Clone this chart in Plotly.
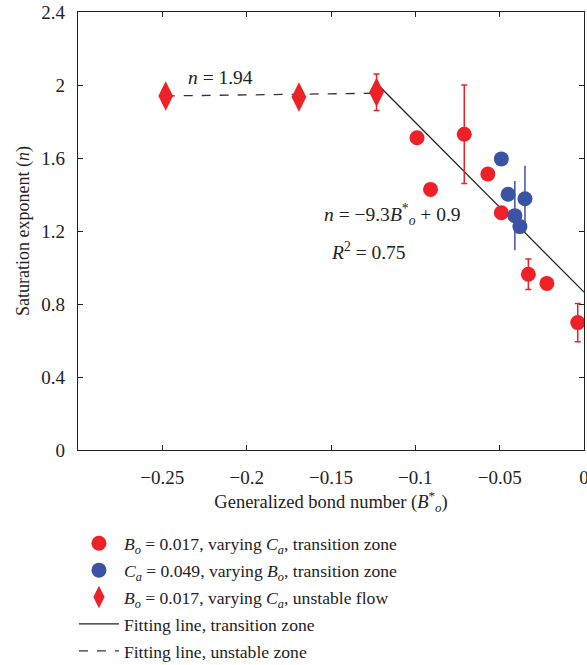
import plotly.graph_objects as go

# Red circles: Bo = 0.017, varying Ca, transition zone
red_x = [-0.099, -0.071, -0.091, -0.057, -0.049, -0.033, -0.022, -0.0037]
red_y = [1.711, 1.73, 1.428, 1.512, 1.30, 0.963, 0.913, 0.698]
red_err = [0, 0.27, 0, 0, 0, 0.083, 0, 0.105]

# Blue circles: Ca = 0.049, varying Bo, transition zone
blue_x = [-0.049, -0.045, -0.035, -0.041, -0.038]
blue_y = [1.595, 1.401, 1.377, 1.284, 1.224]
blue_err = [0, 0, 0.18, 0.19, 0]

# Red diamonds: unstable flow
dia_x = [-0.248, -0.169, -0.123]
dia_y = [1.94, 1.934, 1.96]
dia_err = [0, 0, 0.10]

# Fitting lines
fit_trans_x = [-0.121, 0.0]
fit_trans_y = [1.99, 0.865]
fit_unst_x = [-0.248, -0.123]
fit_unst_y = [1.94, 1.955]

x_ticks = [-0.25, -0.2, -0.15, -0.1, -0.05, 0]
x_tick_labels = ["\u22120.25", "\u22120.2", "\u22120.15", "\u22120.1", "\u22120.05", "0"]
y_ticks = [0, 0.4, 0.8, 1.2, 1.6, 2, 2.4]
y_tick_labels = ["0", "0.4", "0.8", "1.2", "1.6", "2", "2.4"]

RED = "#EE2128"
BLUE = "#3A53A4"
FONT = "Liberation Serif"
INK = "#222222"

fig = go.Figure()

fig.add_trace(go.Scatter(
    x=fit_trans_x, y=fit_trans_y, mode="lines",
    line=dict(color=INK, width=1.3),
    name="Fitting line, transition zone", showlegend=False))
fig.add_trace(go.Scatter(
    x=fit_unst_x, y=fit_unst_y, mode="lines",
    line=dict(color="#333333", width=1.3, dash="dash"),
    name="Fitting line, unstable zone", showlegend=False))

fig.add_trace(go.Scatter(
    x=red_x, y=red_y, mode="markers",
    marker=dict(color=RED, size=15, symbol="circle"),
    error_y=dict(type="data", array=red_err, visible=True, color=RED, thickness=1.5, width=3),
    name="<i>B<sub>o</sub></i> = 0.017, varying <i>C<sub>a</sub></i>, transition zone",
    legendgroup="a"))
fig.add_trace(go.Scatter(
    x=blue_x, y=blue_y, mode="markers",
    marker=dict(color=BLUE, size=15, symbol="circle"),
    error_y=dict(type="data", array=blue_err, visible=True, color=BLUE, thickness=1.5, width=0),
    name="<i>C<sub>a</sub></i> = 0.049, varying <i>B<sub>o</sub></i>, transition zone",
    legendgroup="b"))
fig.add_trace(go.Scatter(
    x=dia_x, y=dia_y, mode="markers",
    marker=dict(color=RED, size=21, symbol="diamond-tall"),
    error_y=dict(type="data", array=dia_err, visible=True, color=RED, thickness=1.5, width=3),
    name="<i>B<sub>o</sub></i> = 0.017, varying <i>C<sub>a</sub></i>, unstable flow",
    legendgroup="c"))

# legend entries for the lines
fig.add_trace(go.Scatter(
    x=[None], y=[None], mode="lines",
    line=dict(color=INK, width=1.3),
    name="Fitting line, transition zone", legendgroup="d"))
fig.add_trace(go.Scatter(
    x=[None], y=[None], mode="lines",
    line=dict(color="#333333", width=1.3, dash="dash"),
    name="Fitting line, unstable zone", legendgroup="e"))

ann_font = dict(family=FONT, size=19.5, color=INK)
fig.add_annotation(x=-0.2155, y=2.04, text="<i>n</i>&nbsp;=&nbsp;1.94", showarrow=False, font=ann_font)
fig.add_annotation(x=-0.1135, y=1.288,
                   text="<i>n</i>&nbsp;=&nbsp;\u22129.3<i>B</i><sup>*</sup><sub><i>o</i></sub>&nbsp;+&nbsp;0.9",
                   showarrow=False, font=ann_font)
fig.add_annotation(x=-0.1275, y=1.09, text="<i>R</i><sup>2</sup>&nbsp;=&nbsp;0.75", showarrow=False,
                   font=ann_font)

fig.update_layout(
    width=587, height=665,
    margin=dict(l=78, r=2.5, t=12, b=215, autoexpand=False),
    paper_bgcolor="white", plot_bgcolor="white",
    font=dict(family=FONT, size=18, color=INK),
    showlegend=True,
    legend=dict(x=-0.008, y=-0.172, xanchor="left", yanchor="top",
                font=dict(family=FONT, size=17.6, color=INK),
                tracegroupgap=1, itemwidth=40, bgcolor="rgba(0,0,0,0)"),
    xaxis=dict(range=[-0.30, 0.0], tickmode="array", tickvals=x_ticks, ticktext=x_tick_labels,
               ticks="inside", ticklen=5, tickcolor=INK, showline=True, linecolor=INK,
               linewidth=1.3, mirror="ticks", showgrid=False, zeroline=False,
               ticklabelstandoff=10, ticklabeloverflow="allow", automargin=False,
               tickfont=dict(family=FONT, size=19),
               title=dict(text="Generalized bond number (<i>B</i><sup>*</sup><sub><i>o</i></sub>)",
                          font=dict(family=FONT, size=18.5), standoff=3)),
    yaxis=dict(range=[0, 2.4], tickmode="array", tickvals=y_ticks, ticktext=y_tick_labels,
               ticks="inside", ticklen=5, tickcolor=INK, showline=True, linecolor=INK,
               linewidth=1.3, mirror="ticks", showgrid=False, zeroline=False,
               ticklabelstandoff=8, automargin=False,
               tickfont=dict(family=FONT, size=19),
               title=dict(text="Saturation exponent (<i>n</i>)",
                          font=dict(family=FONT, size=18), standoff=6)),
)

fig.write_html("out.html", config={"displayModeBar": False},
               post_script="document.body.style.margin='0';")
